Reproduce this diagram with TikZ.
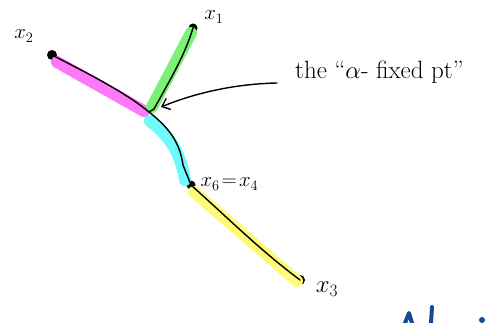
\documentclass[tikz,border=0pt]{standalone}
\usetikzlibrary{arrows.meta}
\definecolor{hpink}{RGB}{255,120,250}
\definecolor{hgreen}{RGB}{125,240,120}
\definecolor{hcyan}{RGB}{110,250,250}
\definecolor{hyellow}{RGB}{255,250,120}
\definecolor{inkblue}{RGB}{20,75,150}
\begin{document}
\begin{tikzpicture}[x=1pt,y=-1pt,
  hl/.style={line width=12pt,line cap=round},
  ink/.style={line width=1.4pt,black,line cap=round,line join=round},
  dot/.style={circle,fill=black,inner sep=0pt,minimum size=10pt},
  lbl/.style={font=\fontsize{21}{24}\selectfont}]
\useasboundingbox (0,0) rectangle (489,323);
% points
\node[dot] (x2) at (52,55) {};
\node[dot,minimum size=9pt] (x1) at (193,28) {};
\node[dot,minimum size=9pt] (x6) at (191,185) {};
\node[dot] (x3) at (300,280) {};
\coordinate (J) at (149,112);
\coordinate (A) at (277,83);
% highlights
\draw[hl,hpink] (57,62) -- (144,111);
\draw[hl,hgreen] (152,107) -- (191,33);
\draw[hl,hcyan] (150,121) .. controls (168,135) and (180,150) .. (185,180);
\draw[hl,hyellow] (194,192) -- (297,281);
% ink
\draw[ink] (x2.center) .. controls (85,72) and (125,92) .. (J);
\draw[ink] (J) -- (154,109) .. controls (170,80) and (185,55) .. (x1.center);
\draw[ink] (J) .. controls (172,130) and (180,145) .. (183,165) -- (x6.center);
\draw[ink] (x6.center) .. controls (230,220) and (260,250) .. (x3.center);
\draw[ink,-{Straight Barb[length=7pt,width=12pt]}] (A) .. controls (230,84) and (190,95) .. (161,107);
% labels
\node[lbl] (lx2) at (24,36) {$x_2$};
\node[lbl] (lx1) at (214,17) {$x_1$};
\node[lbl,anchor=west] (lx6) at (197,184) {$x_6\!=\!x_4$};
\node[lbl,font=\fontsize{24}{28}\selectfont] (lx3) at (327,289) {$x_3$};
\node[font=\fontsize{25}{30}\selectfont,anchor=west,inner sep=0pt] (t) at (295,72) {the ``$\alpha$- fixed pt''};
% partial blue stroke
\draw[line width=4pt,inkblue,line cap=round,line join=round] (405,323) -- (409,313) -- (412,323);
\draw[line width=4pt,inkblue,line cap=round] (432,307) -- (431,323);
\fill[inkblue] (482,320) circle (3pt);
\end{tikzpicture}
\end{document}
